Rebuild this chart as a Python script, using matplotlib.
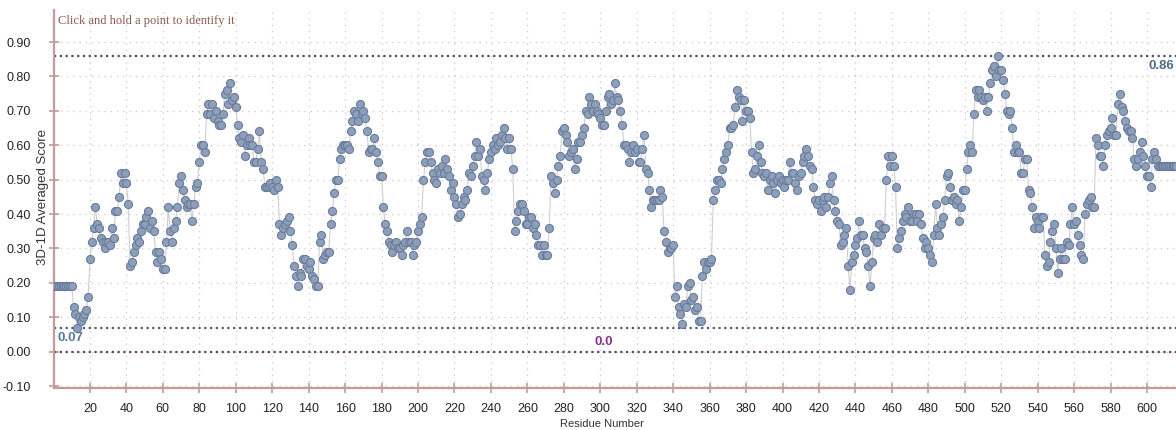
import numpy as np
import matplotlib
matplotlib.use("Agg")
import matplotlib.pyplot as plt

# ##### Verify3D averaged scores, one value per residue (residue 1 first) #####
scores = [
    0.19, 0.19, 0.19, 0.19, 0.19, 0.19, 0.19, 0.19, 0.19, 0.19,
    0.13, 0.11, 0.07, 0.10, 0.09, 0.10, 0.11, 0.12, 0.16, 0.27,
    0.32, 0.36, 0.42, 0.37, 0.36, 0.33, 0.32, 0.30, 0.32, 0.32,
    0.31, 0.36, 0.33, 0.41, 0.41, 0.45, 0.52, 0.49, 0.52, 0.49,
    0.43, 0.25, 0.26, 0.29, 0.31, 0.33, 0.32, 0.35, 0.37, 0.37,
    0.39, 0.41, 0.36, 0.38, 0.35, 0.29, 0.26, 0.29, 0.27, 0.24,
    0.24, 0.32, 0.42, 0.35, 0.32, 0.36, 0.38, 0.42, 0.49, 0.51,
    0.47, 0.44, 0.42, 0.43, 0.43, 0.38, 0.43, 0.48, 0.49, 0.55,
    0.60, 0.60, 0.58, 0.69, 0.72, 0.69, 0.72, 0.68, 0.70, 0.67,
    0.66, 0.66, 0.69, 0.75, 0.76, 0.72, 0.78, 0.73, 0.74, 0.71,
    0.66, 0.62, 0.61, 0.63, 0.57, 0.60, 0.62, 0.60, 0.60, 0.55,
    0.55, 0.59, 0.64, 0.55, 0.53, 0.48, 0.48, 0.48, 0.49, 0.48,
    0.47, 0.50, 0.48, 0.37, 0.34, 0.36, 0.37, 0.38, 0.39, 0.35,
    0.31, 0.25, 0.22, 0.19, 0.23, 0.22, 0.27, 0.27, 0.25, 0.24,
    0.26, 0.22, 0.21, 0.19, 0.19, 0.32, 0.34, 0.27, 0.28, 0.29,
    0.29, 0.37, 0.41, 0.46, 0.50, 0.50, 0.56, 0.59, 0.60, 0.60,
    0.60, 0.59, 0.64, 0.67, 0.70, 0.69, 0.67, 0.72, 0.69, 0.70,
    0.68, 0.64, 0.58, 0.59, 0.59, 0.62, 0.58, 0.55, 0.51, 0.51,
    0.42, 0.37, 0.35, 0.32, 0.31, 0.29, 0.31, 0.32, 0.30, 0.30,
    0.28, 0.31, 0.32, 0.35, 0.32, 0.32, 0.28, 0.31, 0.32, 0.35,
    0.37, 0.39, 0.50, 0.55, 0.58, 0.58, 0.55, 0.52, 0.50, 0.49,
    0.53, 0.52, 0.54, 0.52, 0.56, 0.53, 0.51, 0.47, 0.49, 0.45,
    0.43, 0.39, 0.40, 0.43, 0.45, 0.44, 0.47, 0.52, 0.51, 0.54,
    0.57, 0.61, 0.57, 0.59, 0.51, 0.50, 0.47, 0.52, 0.56, 0.58,
    0.60, 0.59, 0.62, 0.60, 0.61, 0.63, 0.65, 0.62, 0.59, 0.62,
    0.59, 0.53, 0.35, 0.38, 0.41, 0.43, 0.43, 0.41, 0.37, 0.37,
    0.39, 0.39, 0.36, 0.37, 0.34, 0.31, 0.31, 0.28, 0.31, 0.28,
    0.28, 0.36, 0.51, 0.49, 0.46, 0.50, 0.54, 0.57, 0.64, 0.65,
    0.63, 0.61, 0.57, 0.58, 0.59, 0.53, 0.56, 0.61, 0.61, 0.63,
    0.65, 0.70, 0.69, 0.74, 0.72, 0.70, 0.72, 0.70, 0.69, 0.68,
    0.66, 0.66, 0.70, 0.74, 0.75, 0.72, 0.73, 0.78, 0.74, 0.73,
    0.70, 0.66, 0.60, 0.60, 0.59, 0.55, 0.58, 0.60, 0.58, 0.59,
    0.55, 0.55, 0.59, 0.63, 0.53, 0.52, 0.47, 0.42, 0.44, 0.44,
    0.44, 0.44, 0.47, 0.45, 0.35, 0.32, 0.29, 0.30, 0.30, 0.31,
    0.16, 0.19, 0.13, 0.11, 0.08, 0.14, 0.13, 0.19, 0.20, 0.15,
    0.16, 0.12, 0.13, 0.09, 0.09, 0.22, 0.26, 0.24, 0.26, 0.26,
    0.27, 0.44, 0.47, 0.50, 0.50, 0.49, 0.53, 0.56, 0.58, 0.60,
    0.65, 0.65, 0.66, 0.71, 0.76, 0.74, 0.73, 0.67, 0.73, 0.70,
    0.70, 0.68, 0.58, 0.52, 0.53, 0.57, 0.60, 0.55, 0.52, 0.51,
    0.52, 0.47, 0.50, 0.51, 0.49, 0.46, 0.50, 0.51, 0.49, 0.50,
    0.48, 0.50, 0.50, 0.55, 0.52, 0.52, 0.49, 0.47, 0.51, 0.52,
    0.55, 0.57, 0.59, 0.57, 0.54, 0.53, 0.48, 0.44, 0.43, 0.44,
    0.41, 0.44, 0.45, 0.42, 0.45, 0.49, 0.51, 0.44, 0.41, 0.38,
    0.37, 0.31, 0.32, 0.34, 0.36, 0.25, 0.18, 0.26, 0.28, 0.31,
    0.33, 0.38, 0.34, 0.34, 0.30, 0.29, 0.25, 0.19, 0.26, 0.33,
    0.34, 0.32, 0.37, 0.34, 0.36, 0.36, 0.50, 0.57, 0.54, 0.57,
    0.54, 0.48, 0.30, 0.33, 0.35, 0.38, 0.40, 0.39, 0.42, 0.38,
    0.38, 0.40, 0.40, 0.38, 0.40, 0.37, 0.33, 0.30, 0.32, 0.30,
    0.28, 0.26, 0.34, 0.43, 0.36, 0.34, 0.37, 0.39, 0.44, 0.51,
    0.52, 0.48, 0.44, 0.45, 0.43, 0.44, 0.38, 0.42, 0.47, 0.47,
    0.53, 0.58, 0.60, 0.58, 0.69, 0.76, 0.74, 0.76, 0.74, 0.73,
    0.74, 0.70, 0.74, 0.78, 0.82, 0.83, 0.80, 0.86, 0.82, 0.82,
    0.79, 0.75, 0.70, 0.69, 0.70, 0.65, 0.58, 0.60, 0.58, 0.58,
    0.52, 0.52, 0.56, 0.56, 0.47, 0.46, 0.42, 0.36, 0.39, 0.38,
    0.36, 0.39, 0.39, 0.28, 0.25, 0.26, 0.32, 0.35, 0.37, 0.30,
    0.23, 0.27, 0.30, 0.27, 0.27, 0.32, 0.31, 0.37, 0.42, 0.37,
    0.38, 0.34, 0.31, 0.28, 0.27, 0.40, 0.43, 0.44, 0.45, 0.42,
    0.42, 0.62, 0.60, 0.57, 0.57, 0.54, 0.60, 0.63, 0.64, 0.65,
    0.68, 0.63, 0.63, 0.72, 0.75, 0.71, 0.70, 0.67, 0.65, 0.64,
    0.64, 0.62, 0.56, 0.54, 0.56, 0.58, 0.61, 0.57, 0.54, 0.51,
    0.51, 0.48, 0.56, 0.58, 0.56, 0.54, 0.54, 0.54, 0.54, 0.54,
    0.54, 0.54, 0.54, 0.54, 0.54, 0.54,
]

# reference levels drawn across the plot
max_score = 0.86
min_score = 0.07
zero_level = 0.0

x_ticks = list(range(20, 601, 20))
y_ticks = [-0.10, 0.00, 0.10, 0.20, 0.30, 0.40, 0.50, 0.60, 0.70, 0.80, 0.90]

tick_font = ["Liberation Sans Narrow", "Liberation Sans", "DejaVu Sans"]
axis_color = "#c49a9a"


def plotscores():
    residues = np.arange(1, len(scores) + 1)

    fig = plt.figure(figsize=(11.76, 4.30), dpi=100)
    ax = fig.add_axes([53.5 / 1176, 42 / 430, 1 - 53.5 / 1176, 378 / 430])

    ax.set_xlim(0, 615.9)
    ax.set_ylim(-0.1055, 0.993)

    # Grid
    ax.set_xticks(x_ticks)
    ax.set_yticks(y_ticks)
    ax.grid(True, color="#c8c8c8", linestyle=(0, (1, 4)), linewidth=0.9)
    ax.set_axisbelow(True)

    # Reference lines for highest, lowest and zero score
    ax.axhline(max_score, color="#4a4f63", linestyle=(0, (1, 1.6)), linewidth=1.6, zorder=1)
    ax.axhline(min_score, color="#4f5a72", linestyle=(0, (1, 1.6)), linewidth=1.6, zorder=1)
    ax.axhline(zero_level, color="#6b3a6e", linestyle=(0, (1, 1.6)), linewidth=1.6, zorder=1)

    # Scores
    ax.plot(residues, scores, color="#cfcfcf", linewidth=0.8, zorder=2)
    ax.plot(residues, scores, linestyle="none", marker="o", markersize=5.8,
            markerfacecolor="#8ea0b9", markeredgecolor="#687b9c", markeredgewidth=0.8, zorder=3)

    # Level labels
    ax.text(601, max_score - 0.012, "%.2f" % max_score, ha="left", va="top", fontsize=9.5,
            fontweight="bold", color="#4d6b89", family=tick_font)
    ax.text(2, min_score - 0.012, "%.2f" % min_score, ha="left", va="top", fontsize=9.5,
            fontweight="bold", color="#5a7796", family=tick_font)
    ax.text(297, zero_level + 0.012, "%.1f" % zero_level, ha="left", va="bottom", fontsize=9.5,
            fontweight="bold", color="#86358a", family=tick_font)

    # Axes styling
    for side in ["top", "right"]:
        ax.spines[side].set_visible(False)
    for side in ["left", "bottom"]:
        ax.spines[side].set_color(axis_color)
        ax.spines[side].set_linewidth(1.6)

    ax.tick_params(axis="both", direction="inout", length=7, width=1.2, color=axis_color,
                   labelsize=9, labelcolor="#222222")
    ax.tick_params(axis="x", pad=7)
    ax.tick_params(axis="y", pad=13)
    ax.set_xticklabels([str(t) for t in x_ticks], family=tick_font)
    ax.set_yticklabels(["%.2f" % t for t in y_ticks], family=tick_font)

    # axis titles: the score title sits between the tick labels and the axis line
    ax.set_xlabel("Residue Number", fontsize=8, color="#333333",
                  family=["Liberation Sans", "DejaVu Sans"])
    ax.xaxis.set_label_coords(0.4888, -36 / 378, transform=ax.transAxes)
    ax.xaxis.label.set_va("center")
    ax.set_ylabel("3D-1D Averaged Score", fontsize=9.5, color="#333333",
                  family=["Liberation Sans", "DejaVu Sans"])
    ax.yaxis.set_label_coords(-10 / 1122.5, (388 - 197) / 378, transform=ax.transAxes)
    ax.yaxis.label.set_va("center")

    fig.text(58 / 1176, 1 - 21 / 430, "Click and hold a point to identify it", ha="left", va="center",
             fontsize=9, color="#8a5a4c", family=["Liberation Serif", "DejaVu Serif"])

    fig.savefig("out.png", dpi=100)


def main():
    plotscores()


if __name__ == "__main__":
    main()
